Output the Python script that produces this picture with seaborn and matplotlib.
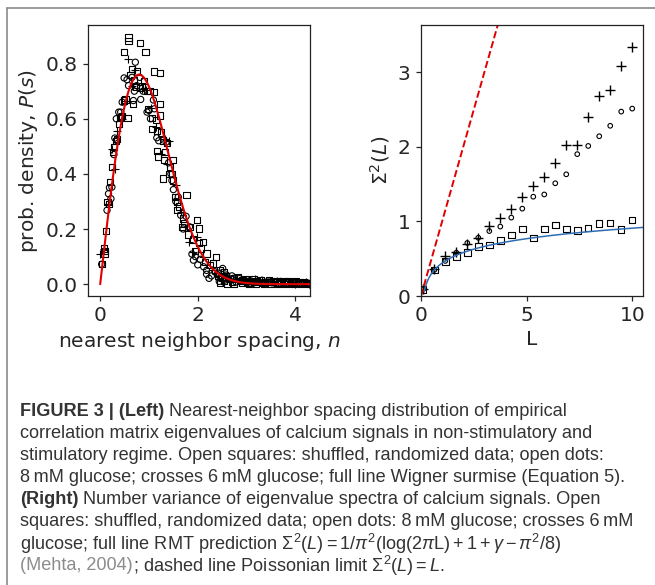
import numpy as np
import pandas as pd
import seaborn as sns
import matplotlib.pyplot as plt
from matplotlib.lines import Line2D

# ---- left panel: nearest neighbour spacing histogram ----
sq_s = [0.58, 0.58, 0.81, 0.49, 0.93, 0.65, 0.76, 1.11, 1.23, 0.89, 0.73, 0.81, 0.96,
        1.11, 0.67, 1.23, 0.98, 0.56, 0.41, 1.06, 1.15, 1.23, 1.06, 1.16, 1.28, 1.37,
        1.16, 1.19, 1.30, 1.28, 1.50, 1.43, 1.47, 1.50, 1.54, 1.57, 1.62, 1.77, 1.69,
        1.67, 1.84, 1.99, 2.02, 1.90, 2.02, 2.10, 2.06, 2.38, 2.18, 2.32, 2.53,
        0.03, 0.07, 0.09, 0.12, 0.15, 0.20, 0.24, 0.26, 0.29, 0.35, 0.38, 0.42, 0.49,
        0.10, 0.18, 0.32, 0.44, 0.52, 0.62, 0.70, 0.85, 1.02, 1.25, 1.33, 1.42, 1.58,
        1.72, 1.80, 1.95, 2.15, 2.25, 2.45]
sq_p = [0.895, 0.881, 0.874, 0.843, 0.843, 0.780, 0.771, 0.771, 0.765, 0.738, 0.714, 0.712, 0.702,
        0.696, 0.654, 0.654, 0.636, 0.603, 0.603, 0.603, 0.594, 0.612, 0.563, 0.555, 0.521, 0.512,
        0.483, 0.463, 0.449, 0.383, 0.451, 0.425, 0.400, 0.376, 0.316, 0.298, 0.282, 0.322, 0.238,
        0.208, 0.208, 0.232, 0.202, 0.162, 0.150, 0.153, 0.129, 0.099, 0.111, 0.075, 0.045,
        0.072, 0.129, 0.111, 0.192, 0.298, 0.370, 0.425, 0.479, 0.497, 0.527, 0.582, 0.606, 0.666,
        0.120, 0.290, 0.520, 0.610, 0.670, 0.760, 0.740, 0.720, 0.700, 0.550, 0.480, 0.400, 0.270,
        0.220, 0.180, 0.120, 0.080, 0.070, 0.050]
sq_tail_s = [2.42, 2.50, 2.58, 2.66, 2.74, 2.82, 2.90, 2.98, 3.06, 3.14, 3.22, 3.30, 3.38, 3.46,
             3.54, 3.62, 3.70, 3.78, 3.86, 3.94, 4.02, 4.10, 4.18, 4.26,
             2.46, 2.60, 2.75, 2.90, 3.05, 3.20, 3.35, 3.50, 3.65, 3.80, 3.95, 4.10, 4.25,
             2.54, 2.70, 2.86, 3.02, 3.18, 3.34, 3.50, 3.66, 3.82, 3.98, 4.14, 4.29]
sq_tail_p = [0.030, 0.025, 0.028, 0.018, 0.022, 0.026, 0.015, 0.020, 0.012, 0.018, 0.010, 0.014,
             0.008, 0.015, 0.010, 0.012, 0.006, 0.010, 0.012, 0.008, 0.010, 0.006, 0.008, 0.005,
             0.004, 0.002, 0.000, 0.003, 0.001, 0.000, 0.002, 0.000, 0.001, 0.000, 0.002, 0.000, 0.001,
             0.012, 0.008, 0.010, 0.006, 0.008, 0.005, 0.007, 0.004, 0.006, 0.003, 0.004, 0.003]

ci_s = [0.03, 0.14, 0.17, 0.24, 0.34, 0.38, 0.42, 0.49, 0.55, 0.72, 0.65, 0.81, 0.83, 0.68,
        1.09, 1.11, 0.96, 1.16, 1.35, 1.47, 1.50, 1.60, 1.76, 1.83, 1.88, 1.91, 2.12, 2.18,
        2.23, 2.35, 2.51, 2.59, 2.73, 2.18,
        0.19, 0.22, 0.28, 0.30, 0.33, 0.45, 0.58, 0.70, 0.75, 0.88, 1.00, 1.03, 1.20, 1.40,
        1.45, 1.55, 1.65, 1.70, 1.95, 2.00, 2.05, 2.28, 2.42]
ci_p = [0.072, 0.268, 0.328, 0.352, 0.521, 0.624, 0.624, 0.748, 0.742, 0.805, 0.750, 0.750,
        0.670, 0.666, 0.668, 0.636, 0.624, 0.531, 0.515, 0.376, 0.343, 0.316, 0.246, 0.208,
        0.109, 0.087, 0.063, 0.036, 0.021, 0.045, 0.057, 0.033, 0.021, 0.050,
        0.350, 0.310, 0.470, 0.530, 0.600, 0.660, 0.720, 0.700, 0.720, 0.700, 0.630, 0.600,
        0.520, 0.440, 0.400, 0.300, 0.250, 0.200, 0.100, 0.070, 0.090, 0.030, 0.040]
ci_tail_s = [2.40, 2.48, 2.62, 2.70, 2.85, 2.95, 3.08, 3.20, 3.32, 3.45, 3.58, 3.70, 3.85,
             3.98, 4.12, 4.25,
             2.44, 2.56, 2.78, 2.90, 3.02, 3.14, 3.26, 3.38, 3.52, 3.64, 3.78, 3.92, 4.05,
             4.18, 4.30]
ci_tail_p = [0.035, 0.028, 0.022, 0.030, 0.020, 0.016, 0.012, 0.010, 0.014, 0.008, 0.006,
             0.010, 0.004, 0.006, 0.003, 0.004,
             0.010, 0.015, 0.008, 0.010, 0.006, 0.004, 0.008, 0.003, 0.005, 0.002, 0.004,
             0.002, 0.003, 0.001, 0.002]

cr_s = [0.00, 0.07, 0.15, 0.31, 0.35, 0.52, 0.58, 0.72, 0.85, 0.93, 1.33, 1.42, 1.24, 1.37,
        1.81, 1.98, 1.91, 0.25, 0.45, 0.65, 1.05, 1.15, 1.55, 1.65, 2.10, 2.30]
cr_p = [0.111, 0.129, 0.292, 0.419, 0.557, 0.666, 0.817, 0.775, 0.708, 0.705, 0.527, 0.521,
        0.471, 0.437, 0.153, 0.171, 0.117, 0.490, 0.600, 0.720, 0.640, 0.570, 0.360, 0.260,
        0.100, 0.050]
cr_tail_s = [2.50, 2.65, 2.80, 2.95, 3.10, 3.25, 3.40, 3.55, 3.70, 3.85, 4.00, 4.15, 4.28,
             2.58, 2.88, 3.18, 2.44, 2.72, 3.02, 3.32, 3.62, 3.92, 4.22]
cr_tail_p = [0.012, 0.010, 0.008, 0.010, 0.005, 0.006, 0.004, 0.008, 0.003, 0.005, 0.002,
             0.004, 0.001, 0.025, 0.020, 0.018, 0.030, 0.018, 0.012, 0.010, 0.012, 0.008, 0.006]

# ---- right panel: number variance ----
L_pts = [0.10, 0.63, 1.15, 1.67, 2.19, 2.71, 3.23, 3.75, 4.27, 4.79, 5.31, 5.83, 6.35, 6.87,
         7.39, 7.91, 8.43, 8.95, 9.47, 9.99]
var_shuffled = [0.09, 0.35, 0.46, 0.53, 0.58, 0.66, 0.68, 0.74, 0.82, 0.90, 0.78, 0.90, 0.95,
                0.90, 0.88, 0.91, 0.97, 0.98, 0.89, 1.02]
var_8mM = [0.09, 0.35, 0.47, 0.58, 0.71, 0.78, 0.87, 0.93, 1.05, 1.17, 1.33, 1.36, 1.51, 1.63,
           1.90, 2.01, 2.14, 2.28, 2.47, 2.51]
var_6mM = [0.10, 0.36, 0.53, 0.59, 0.70, 0.78, 0.94, 1.04, 1.16, 1.33, 1.47, 1.59, 1.78, 2.02,
           2.02, 2.40, 2.68, 2.76, 3.08, 3.33]

# theory curves (Wigner surmise, GOE number variance, Poisson limit)
s_fit = np.linspace(0, 4.3, 300)
p_wigner = np.pi / 2 * s_fit * np.exp(-np.pi * s_fit ** 2 / 4)
L_fit = np.linspace(0.15, 10.5, 300)
var_rmt = 2 / np.pi ** 2 * (np.log(2 * np.pi * L_fit) + 1 + np.euler_gamma - np.pi ** 2 / 8)
L_poisson = [0.0, 3.8]

sns.set_style("ticks")
plt.rcParams['font.family'] = ['DejaVu Sans']
plt.rcParams['mathtext.fontset'] = 'dejavusans'
plt.rcParams['mathtext.rm'] = 'Liberation Sans'
plt.rcParams['mathtext.it'] = 'Liberation Sans:italic'
plt.rcParams['mathtext.bf'] = 'Liberation Sans:bold'
plt.rcParams['axes.edgecolor'] = '#222222'
plt.rcParams['axes.linewidth'] = 0.9

W, H = 655, 585
fig = plt.figure(figsize=(W / 100, H / 100), dpi=100)
ax1 = fig.add_axes([88 / W, 1 - 296 / H, 222 / W, 271 / H])
ax2 = fig.add_axes([421 / W, 1 - 296 / H, 222 / W, 271 / H])

open_kw = dict(facecolor='none', edgecolor='black', linewidth=0.8)
sns.scatterplot(x=sq_s + sq_tail_s, y=sq_p + sq_tail_p, marker='s', s=20, ax=ax1, **open_kw)
sns.scatterplot(x=ci_s + ci_tail_s, y=ci_p + ci_tail_p, marker='o', s=20, ax=ax1, **open_kw)
sns.scatterplot(x=cr_s + cr_tail_s, y=cr_p + cr_tail_p, marker='+', s=32, color='black',
                linewidth=0.8, ax=ax1)
sns.lineplot(x=s_fit, y=p_wigner, color='#e00000', linewidth=1.5, sort=False, ax=ax1)

ax1.set_xlim(-0.25, 4.3)
ax1.set_ylim(-0.043, 0.94)
ax1.set_xticks([0, 2, 4])
ax1.set_yticks([0.0, 0.2, 0.4, 0.6, 0.8])
ax1.set_xlabel('nearest neighbor spacing, $n$', fontsize=14.5, labelpad=3)
ax1.set_ylabel('prob. density, $P(s)$', fontsize=14.5)

sns.scatterplot(x=L_pts, y=var_shuffled, marker='s', s=22, ax=ax2, **open_kw)
sns.scatterplot(x=L_pts, y=var_8mM, marker='o', s=11, ax=ax2, **open_kw)
sns.scatterplot(x=L_pts, y=var_6mM, marker='+', s=55, color='black', linewidth=1.0, ax=ax2)
sns.lineplot(x=L_fit, y=var_rmt, color='#2e6db4', linewidth=1.1, sort=False, ax=ax2)
sns.lineplot(x=L_poisson, y=L_poisson, color='#e00000', linewidth=1.4, linestyle='--',
             sort=False, ax=ax2)

ax2.set_xlim(0, 10.5)
ax2.set_ylim(0, 3.63)
ax2.set_xticks([0, 5, 10])
ax2.set_yticks([0, 1, 2, 3])
ax2.set_xlabel('L', fontsize=14.5, labelpad=3)
ax2.set_ylabel(r'$\Sigma^2(L)$', fontsize=14.5)

for ax in (ax1, ax2):
    ax.tick_params(labelsize=14.5, length=3.5, width=0.9, pad=4)

# page frame
fig.add_artist(Line2D([7 / W, 1], [1 - 8 / H, 1 - 8 / H], color='#8a8a8a', linewidth=1.2))
fig.add_artist(Line2D([7 / W, 7 / W], [0, 1 - 8 / H], color='#8a8a8a', linewidth=1.2))

# caption
txt_col = '#333333'
link_col = '#8c8c8c'
cap_font = ['Liberation Sans', 'DejaVu Sans']
caption = [
    [("FIGURE 3 | (Left)", 'bold', txt_col),
     (" Nearest-neighbor spacing distribution of empirical", 'normal', txt_col)],
    [("correlation matrix eigenvalues of calcium signals in non-stimulatory and", 'normal', txt_col)],
    [("stimulatory regime. Open squares: shuffled, randomized data; open dots:", 'normal', txt_col)],
    [("8\u2009mM glucose; crosses 6\u2009mM glucose; full line Wigner surmise (Equation 5).",
      'normal', txt_col)],
    [("(Right)", 'bold', txt_col),
     (" Number variance of eigenvalue spectra of calcium signals. Open", 'normal', txt_col)],
    [("squares: shuffled, randomized data; open dots: 8\u2009mM glucose; crosses 6\u2009mM",
      'normal', txt_col)],
    [(r"glucose; full line RMT prediction $\Sigma^2(L) = 1/\pi^2(\log(2\pi\mathrm{L}) + 1 + \gamma - \pi^2/8)$",
      'normal', txt_col)],
    [("(Mehta, 2004)", 'normal', link_col),
     (r"; dashed line Poissonian limit $\Sigma^2(L) = L$.", 'normal', txt_col)],
]
renderer = fig.canvas.get_renderer()

# size the caption so that its longest line spans the page width as in the reference
probe = fig.text(0, 0, caption[5][0][0], family=cap_font, fontsize=10)
cap_size = 10 * 617 / probe.get_window_extent(renderer).width
probe.remove()

y0, dy = 412, 22.0
for i, segs in enumerate(caption):
    x = 20
    for text, weight, col in segs:
        t = fig.text(x / W, 1 - (y0 + i * dy) / H, text, family=cap_font, fontsize=cap_size,
                     fontweight=weight, color=col, va='center', ha='left',
                     math_fontfamily='custom')
        x += t.get_window_extent(renderer).width

fig.savefig('out.png', dpi=100)
